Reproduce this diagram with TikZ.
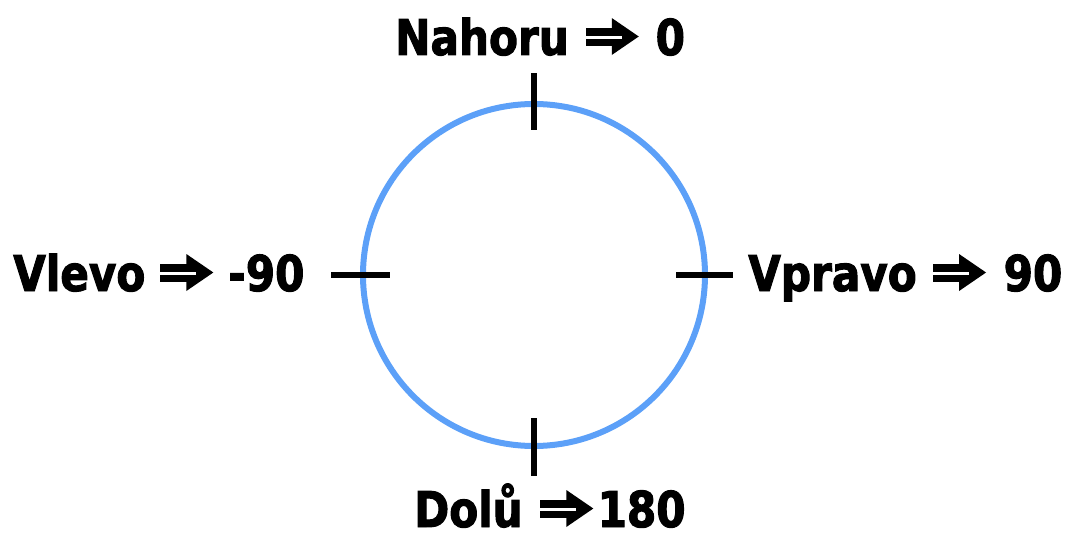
\documentclass[tikz,border=0pt]{standalone}
\usepackage{fontspec}
\setmainfont{DejaVu Sans Condensed Bold}[FakeBold=2,FakeStretch=0.95]
\definecolor{ringblue}{RGB}{92,160,248}
\begin{document}
\begin{tikzpicture}[x=0.75pt,y=-0.75pt,
  lbl/.style={inner sep=0pt,font=\fontsize{37}{39}\selectfont,anchor=base west},
  tick/.style={line width=4.8pt,black},
  dblarrow/.pic={
    \fill (0,-27) rectangle (30,-9);
    \fill (26,-37) -- (53,-18.5) -- (26,0) -- cycle;
    \fill[white] (-0.5,-19.5) rectangle (36,-16.5);
    \coordinate (-end) at (53,0);}]
\useasboundingbox (0,0) rectangle (1072,539);
\node[circle,draw=ringblue,line width=4.5pt,minimum size=342*0.75pt,inner sep=0pt] (c) at (534,275) {};
\coordinate (t1) at (534,73); \coordinate (t2) at (534,130);
\coordinate (b1) at (534,418); \coordinate (b2) at (534,476);
\coordinate (l1) at (331,275); \coordinate (l2) at (390,275);
\coordinate (r1) at (676,275); \coordinate (r2) at (733,275);
\draw[tick] (t1) -- (t2);
\draw[tick] (b1) -- (b2);
\draw[tick] (l1) -- (l2);
\draw[tick] (r1) -- (r2);
% top
\node[lbl] (topw) at (395,55) {Nahoru};
\pic (topa) at ([xshift=12.5pt]topw.base east) {dblarrow};
\node[lbl] (topn) at ([xshift=12.5pt]topa-end) {0};
% left
\node[lbl] (leftw) at (13,291) {Vlevo};
\pic (lefta) at ([xshift=11pt]leftw.base east) {dblarrow};
\node[lbl] (leftn) at ([xshift=11pt]lefta-end) {-90};
% right
\node[lbl] (rightw) at (748,291) {Vpravo};
\pic (righta) at ([xshift=12pt]rightw.base east) {dblarrow};
\node[lbl] (rightn) at ([xshift=13pt]righta-end) {90};
% bottom
\node[lbl] (botw) at (414,527) {Dolů};
\pic (bota) at ([xshift=13pt]botw.base east) {dblarrow};
\node[lbl] (botn) at ([xshift=3pt]bota-end) {180};
\end{tikzpicture}
\end{document}
